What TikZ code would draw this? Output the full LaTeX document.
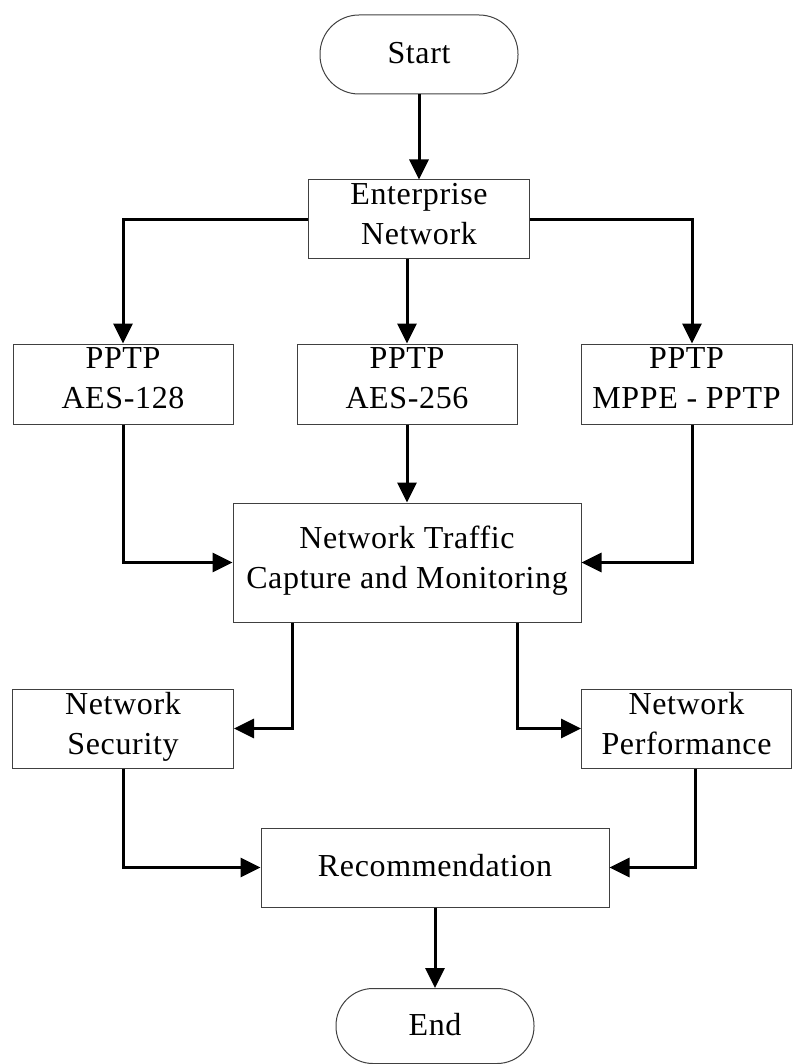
\documentclass[tikz,border=0pt]{standalone}
\usepackage{fontspec}
\setmainfont{Liberation Serif}[LetterSpace=2]
\usepackage{tikz}
\usetikzlibrary{arrows.meta}
\usetikzlibrary{positioning}
\newcommand{\tstrut}{\rule[-11pt]{0pt}{40pt}}

\begin{document}
\begin{tikzpicture}[x=1pt, y=1pt, every node/.style={font=\fontsize{32}{40}\selectfont}]
			\tikzstyle{blk} = [draw=black!75, line width=1pt, rectangle, align=center, inner sep=0pt, minimum height=79pt, execute at begin node=\tstrut, execute at end node=\tstrut]
			\tikzstyle{term} = [blk, rounded corners=39pt, minimum width=198pt]
			\tikzstyle{flow} = [line width=3pt, -{Triangle[length=20pt,width=19pt]}]
			\useasboundingbox (0,0) rectangle (792,-1064);

			\node[term] (start) at (419,-54.5) {Start};
			\node[blk, minimum width=221pt] (ent) [below of=start, node distance=165pt] {Enterprise\\Network};
			\node[blk, minimum width=220pt, minimum height=80pt] (aes256) [below of=ent, node distance=164.5pt, xshift=-12pt] {PPTP\\AES-256};
			\node[blk, minimum width=220pt, minimum height=80pt] (aes128) [left of=aes256, node distance=284pt] {PPTP\\AES-128};
			\node[blk, minimum width=211pt, minimum height=80pt] (mppe) [right of=aes256, node distance=279.5pt] {PPTP\\MPPE - PPTP};
			\node[blk, minimum width=348pt, minimum height=119pt] (traffic) [below of=aes256, node distance=178.5pt] {Network Traffic\\Capture and Monitoring};
			\node[blk, minimum width=221pt] (sec) [below of=aes128, node distance=344.5pt] {Network\\Security};
			\node[blk, minimum width=210pt] (perf) [below of=mppe, node distance=344.5pt] {Network\\Performance};
			\node[blk, minimum width=348pt] (rec) [below of=traffic, node distance=305pt, xshift=28pt] {Recommendation};
			\node[term, minimum height=75pt, rounded corners=37pt] (end) [below of=rec, node distance=158.5pt] {End};

			\draw[flow] (start) -- (ent);
			\draw[flow] (ent.west) -| (aes128.north);
			\draw[flow] (aes256.north |- ent.south) -- (aes256.north);
			\draw[flow] (ent.east) -| ([xshift=5.5pt]mppe.north);

			\draw[flow] (aes256) -- (traffic);
			\draw[flow] (aes128.south) |- (traffic.west);
			\draw[flow] ([xshift=5.5pt]mppe.south) |- (traffic.east);

			\draw[flow] ([xshift=60pt]traffic.south west) |- (sec.east);
			\draw[flow] ([xshift=-64pt]traffic.south east) |- (perf.west);
			\draw[flow] (sec.south) |- (rec.west);
			\draw[flow] ([xshift=9pt]perf.south) |- (rec.east);

			\draw[flow] (rec) -- (end);
\end{tikzpicture}
\end{document}
